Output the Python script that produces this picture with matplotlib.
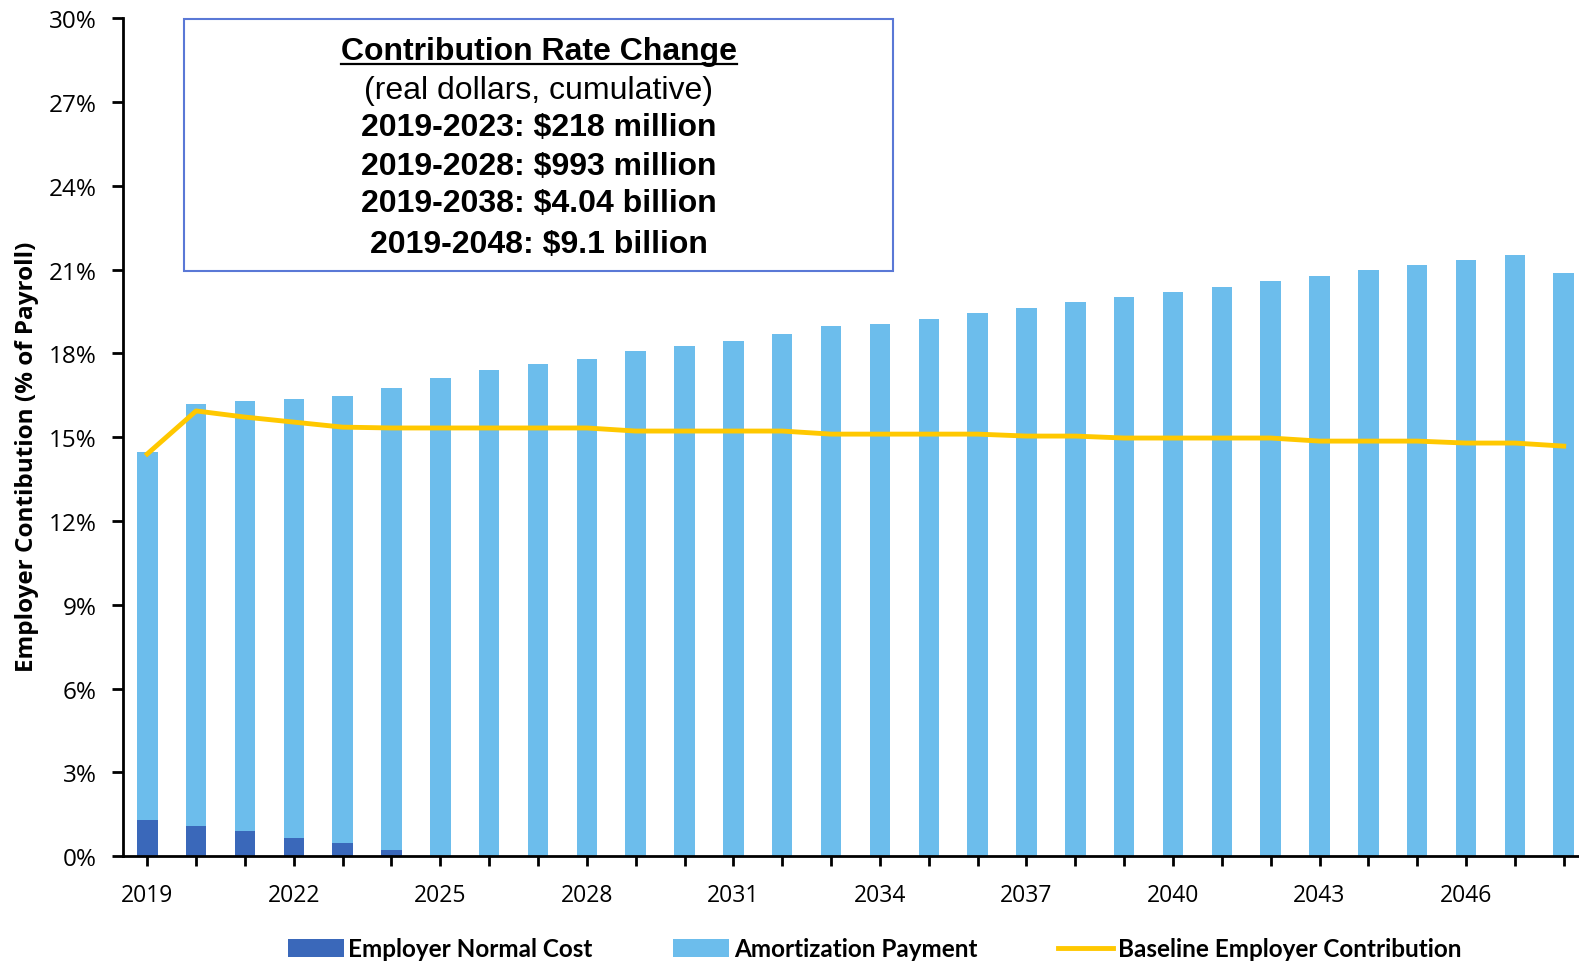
import matplotlib.pyplot as plt
import numpy as np
from matplotlib.lines import Line2D
from matplotlib.patches import Patch

plt.rcParams['font.family'] = ['Open Sans', 'DejaVu Sans']

years = list(range(2019, 2049))

# employer normal cost (% of payroll), only the first few years
normal_cost = [1.30, 1.08, 0.90, 0.65, 0.47, 0.22] + [0.0] * 24

# total contribution (normal cost + amortization)
total_rate = [14.46, 16.19, 16.30, 16.37, 16.48, 16.77, 17.13, 17.42, 17.63, 17.81,
              18.10, 18.28, 18.46, 18.68, 18.97, 19.04, 19.22, 19.44, 19.62, 19.83,
              20.01, 20.19, 20.37, 20.59, 20.77, 20.99, 21.17, 21.35, 21.53, 20.88]

baseline = [14.40, 15.94, 15.72, 15.54, 15.36, 15.33, 15.33, 15.33, 15.33, 15.33,
            15.22, 15.22, 15.22, 15.22, 15.11, 15.11, 15.11, 15.11, 15.04, 15.04,
            14.97, 14.97, 14.97, 14.97, 14.86, 14.86, 14.86, 14.79, 14.79, 14.68]

amortization = [t - n for t, n in zip(total_rate, normal_cost)]

box_lines = ["(real dollars, cumulative)",
             "2019-2023: $218 million",
             "2019-2028: $993 million",
             "2019-2038: $4.04 billion",
             "2019-2048: $9.1 billion"]

c_normal = "#3A68BA"
c_amort = "#6CBDEC"
c_base = "#FFC800"

fig = plt.figure(figsize=(15.79, 9.62), dpi=100)
# axes runs past the right edge of the figure
ax = fig.add_axes([0.0778, 0.109, 0.928, 0.871])

x = np.arange(len(years))
ax.bar(x, normal_cost, width=0.42, color=c_normal)
ax.bar(x, amortization, width=0.42, bottom=normal_cost, color=c_amort)
ax.plot(x, baseline, color=c_base, linewidth=3.5)

ax.set_xlim(-0.5, 29.5)
ax.set_ylim(0, 30)
ax.set_yticks(range(0, 31, 3))
ax.set_yticklabels([f"{v}%" for v in range(0, 31, 3)])
ax.set_xticks(x)
ax.set_xticklabels([str(y) if (y - 2019) % 3 == 0 else "" for y in years])

for s in ["top", "right"]:
    ax.spines[s].set_visible(False)
for s in ["left", "bottom"]:
    ax.spines[s].set_linewidth(2)
ax.tick_params(axis="y", length=8, width=2, labelsize=17.5, pad=11)
ax.tick_params(axis="x", length=7, width=2, labelsize=16.5, pad=12)

ax.set_ylabel("Employer Contibution (% of Payroll)", fontsize=17.5, fontweight="bold")
ax.yaxis.set_label_coords(-0.0575, 0.478)

# summary box
bx0, bx1 = 183 / 1568, 887 / 1568
by0, by1 = 1 - 270 / 955, 1 - 20 / 955
fig.patches.append(plt.Rectangle((bx0, by0), bx1 - bx0, by1 - by0, transform=fig.transFigure,
                                 fill=False, edgecolor="#5A78D6", linewidth=1.5))
cx = (bx0 + bx1) / 2
title = fig.text(cx, 1 - 52 / 955, "Contribution Rate Change", ha="center", va="center",
                 fontsize=23, fontweight="bold", family="Liberation Sans")
ys = [90, 127, 166, 203, 243]
for i, (txt, yy) in enumerate(zip(box_lines, ys)):
    fig.text(cx, 1 - yy / 955, txt, ha="center", va="center", fontsize=23,
             fontweight="normal" if i == 0 else "bold", family="Liberation Sans")

# underline for the box title
fig.canvas.draw()
bb = title.get_window_extent().transformed(fig.transFigure.inverted())
fig.add_artist(Line2D([bb.x0, bb.x1], [bb.y0 + 0.002, bb.y0 + 0.002],
                      transform=fig.transFigure, color="black", linewidth=1.6))

handles = [Patch(facecolor=c_normal), Patch(facecolor=c_amort),
           Line2D([], [], color=c_base, linewidth=3.5)]
labels = ["Employer Normal Cost", "Amortization Payment", "Baseline Employer Contribution"]
fig.legend(handles, labels, loc="center", bbox_to_anchor=(0.554, 1 - 943 / 955), ncol=3,
           frameon=False, handlelength=2.3, handleheight=0.8, handletextpad=0.2,
           columnspacing=3.3, prop={"family": "Lato", "weight": "bold", "size": 17.5})

fig.savefig("out.png", dpi=100)
